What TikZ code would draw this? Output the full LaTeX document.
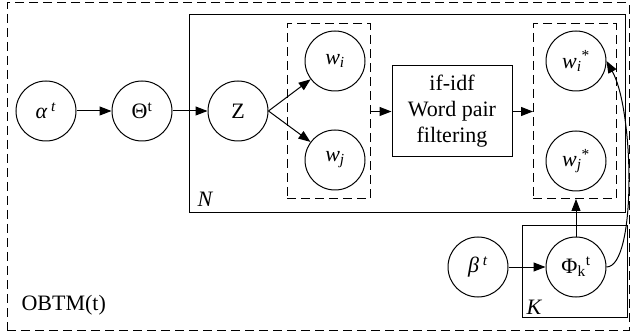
\documentclass[tikz,border=0pt]{standalone}
\usepackage{fontspec}
\setmainfont{Liberation Serif}
\usepackage{tikz}
\usetikzlibrary{arrows.meta,positioning}

\begin{document}
\begin{tikzpicture}[x=1pt, y=1pt, line width=1pt,
  >={Triangle[length=12pt,width=9pt]},
  var/.style={draw, circle, minimum size=60pt, inner sep=0pt, font=\fontsize{22}{26}\selectfont},
  plate/.style={draw, rectangle, inner sep=0pt, outer sep=0pt},
  dplate/.style={plate, dash pattern=on 9pt off 5pt},
  lab/.style={font=\fontsize{22}{26}\selectfont, inner sep=0pt}]
\useasboundingbox (0,0) rectangle (631,332);
% plates
\node[dplate, minimum width=622pt, minimum height=327pt] (obtm) at (318,165.5) {};
\node[plate, minimum width=436pt, minimum height=198pt] (nplate) at (407,218) {};
\node[plate, minimum width=105pt, minimum height=91pt] (kplate) at (574.5,60.5) {};
\node[dplate, minimum width=83pt, minimum height=175pt] (pair) at (328.5,220.5) {};
\node[dplate, minimum width=83pt, minimum height=175pt] (pairstar) at (574.5,220.5) {};
% variables
\node[var] (alpha) at (46,221) {\textit{α}\,\textsuperscript{\textit{t}}};
\node[var] (theta) at (142,221) {Θ\textsuperscript{t}};
\node[var] (z) at (238,221) {Z};
\node[var] (wi) at (335,271) {\textit{w}\textsubscript{\textit{i}}};
\node[var] (wj) at (335,172) {\textit{w}\textsubscript{\textit{j}}};
\node[draw, rectangle, minimum width=120pt, minimum height=91pt, inner sep=0pt, align=center,
  font=\fontsize{22}{26}\selectfont] (filter) at (452,220.5) {if-idf\\Word pair\\filtering};
\node[var] (wistar) at (576,271) {\textit{w}\textsubscript{\textit{i}}\textsuperscript{*}};
\node[var] (wjstar) at (576,171) {\textit{w}\textsubscript{\textit{j}}\textsuperscript{*}};
\node[var] (beta) at (478,65) {\textit{β}\,\textsuperscript{\textit{t}}};
\node[var] (phi) at (576,65) {Φ\textsubscript{k}\textsuperscript{t}};
% plate labels
\node[lab, anchor=west] (nlab) at (197,133) {\textit{N}};
\node[lab, anchor=west] (klab) at (526,25) {\textit{K}};
\node[lab, anchor=west] (olab) at (21,27) {OBTM(t)};
% edges
\draw[->] (alpha) -- (theta);
\draw[->] (theta) -- (z);
\draw[->] (z.east) -- (wi);
\draw[->] (z.east) -- (wj);
\draw[->] (pair.east) -- (filter.west);
\draw[->] (filter.east) -- (pairstar.west);
\draw[->] (beta) -- (phi);
\draw[->] (phi.north) -- (phi.north |- pairstar.south);
\draw[->] (phi.east) .. controls +(30,0) and +(28,-50) .. (wistar.east);
\end{tikzpicture}
\end{document}
